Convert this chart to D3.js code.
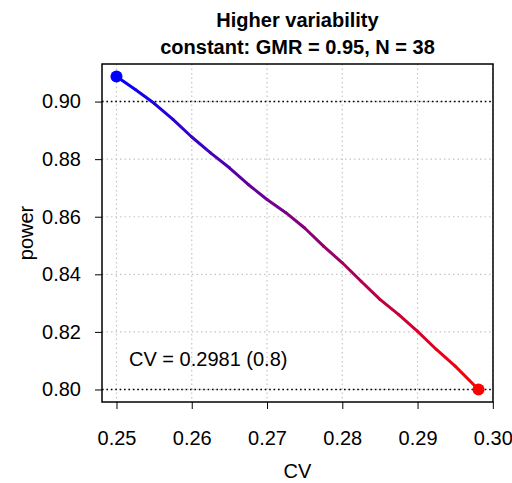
<!DOCTYPE html>
<html>
<head>
<meta charset="utf-8">
<script src="https://cdn.jsdelivr.net/npm/d3@7"></script>
<style>
  body { margin: 0; background: #fff; }
  text { font-family: "Liberation Sans", Arial, sans-serif; }
</style>
</head>
<body>
<svg id="plot"></svg>
<script>
const titleLines = ["Higher variability", "constant: GMR = 0.95, N = 38"];
const cvValues = [0.25, 0.2525, 0.255, 0.2575, 0.26, 0.2625, 0.265, 0.2675, 0.27,
  0.2725, 0.275, 0.2775, 0.28, 0.2825, 0.285, 0.2875, 0.29, 0.2925, 0.295, 0.2981];
const powerValues = [0.9087, 0.9042, 0.8994, 0.8938, 0.8877, 0.8822, 0.8770, 0.8712, 0.8660,
  0.8614, 0.8561, 0.8498, 0.8440, 0.8376, 0.8313, 0.8260, 0.8202, 0.8139, 0.8081, 0.8000];
const xTicks = [0.25, 0.26, 0.27, 0.28, 0.29, 0.30];
const yTicks = [0.80, 0.82, 0.84, 0.86, 0.88, 0.90];
const refPowers = [0.90, 0.80];
const annotation = "CV = 0.2981 (0.8)";

const W = 512, H = 483;
const margin = { top: 64, right: 19, bottom: 81, left: 102 };
const width = W - margin.left - margin.right;
const height = H - margin.top - margin.bottom;

const root = d3.select("#plot").attr("width", W).attr("height", H);
const svg = root.append("g").attr("transform", `translate(${margin.left},${margin.top})`);

// R style 4% padding
const pad = (ext) => { const r = ext[1] - ext[0]; return [ext[0] - 0.04 * r, ext[1] + 0.04 * r]; };
const x = d3.scaleLinear().domain(pad(d3.extent(cvValues))).range([0, width]);
const y = d3.scaleLinear().domain(pad(d3.extent(powerValues))).range([height, 0]);

// grid
svg.selectAll(".gx").data(xTicks).enter().append("line")
  .attr("x1", d => x(d)).attr("x2", d => x(d)).attr("y1", 0).attr("y2", height)
  .attr("stroke", "#c4c4c4").attr("stroke-width", 1.2).attr("stroke-dasharray", "1.5,3");
svg.selectAll(".gy").data(yTicks).enter().append("line")
  .attr("x1", 0).attr("x2", width).attr("y1", d => y(d)).attr("y2", d => y(d))
  .attr("stroke", "#c4c4c4").attr("stroke-width", 1.2).attr("stroke-dasharray", "1.5,3");

// reference lines
svg.selectAll(".ref").data(refPowers).enter().append("line")
  .attr("x1", 0).attr("x2", width).attr("y1", d => y(d)).attr("y2", d => y(d))
  .attr("stroke", "#000").attr("stroke-width", 1.6).attr("stroke-dasharray", "1.6,2.8");

// coloured curve, blue -> red
const pts = cvValues.map((c, i) => [c, powerValues[i]]);
const col = d3.interpolateRgb("#0000ff", "#ff0000");
svg.selectAll(".seg").data(d3.pairs(pts)).enter().append("line")
  .attr("x1", d => x(d[0][0])).attr("y1", d => y(d[0][1]))
  .attr("x2", d => x(d[1][0])).attr("y2", d => y(d[1][1]))
  .attr("stroke", (d, i) => col((i + 0.5) / (pts.length - 1)))
  .attr("stroke-width", 3).attr("stroke-linecap", "round");

// end points
const ends = [pts[0], pts[pts.length - 1]];
svg.selectAll(".end").data(ends).enter().append("circle")
  .attr("cx", d => x(d[0])).attr("cy", d => y(d[1])).attr("r", 6)
  .attr("fill", (d, i) => i === 0 ? "#0000ff" : "#ff0000");

// box
svg.append("rect").attr("width", width).attr("height", height)
  .attr("fill", "none").attr("stroke", "#000").attr("stroke-width", 1.5);

// axes
const xAxis = svg.append("g").attr("transform", `translate(0,${height})`)
  .call(d3.axisBottom(x).tickValues(xTicks).tickFormat(d3.format(".2f")).tickSize(7).tickPadding(22));
const yAxis = svg.append("g")
  .call(d3.axisLeft(y).tickValues(yTicks).tickFormat(d3.format(".2f")).tickSize(7).tickPadding(14));
[xAxis, yAxis].forEach(a => {
  a.select(".domain").remove();
  a.selectAll("line").attr("stroke", "#000").attr("stroke-width", 1);
  a.selectAll("text").attr("font-size", 20).attr("fill", "#000")
    .attr("font-family", "Liberation Sans, Arial, sans-serif");
});

// annotation
svg.append("text").attr("x", 27).attr("y", 302)
  .attr("font-size", 20).text(annotation);

// axis labels
root.append("text").attr("x", margin.left + width / 2).attr("y", 478)
  .attr("text-anchor", "middle").attr("font-size", 20).text("CV");
root.append("text").attr("transform", `translate(33,${margin.top + height / 2}) rotate(-90)`)
  .attr("text-anchor", "middle").attr("font-size", 20).text("power");

// title
root.selectAll(".title").data(titleLines).enter().append("text")
  .attr("x", margin.left + width / 2).attr("y", (d, i) => 27 + i * 26.5)
  .attr("text-anchor", "middle").attr("font-size", 20).attr("font-weight", "bold")
  .text(d => d);
</script>
</body>
</html>
